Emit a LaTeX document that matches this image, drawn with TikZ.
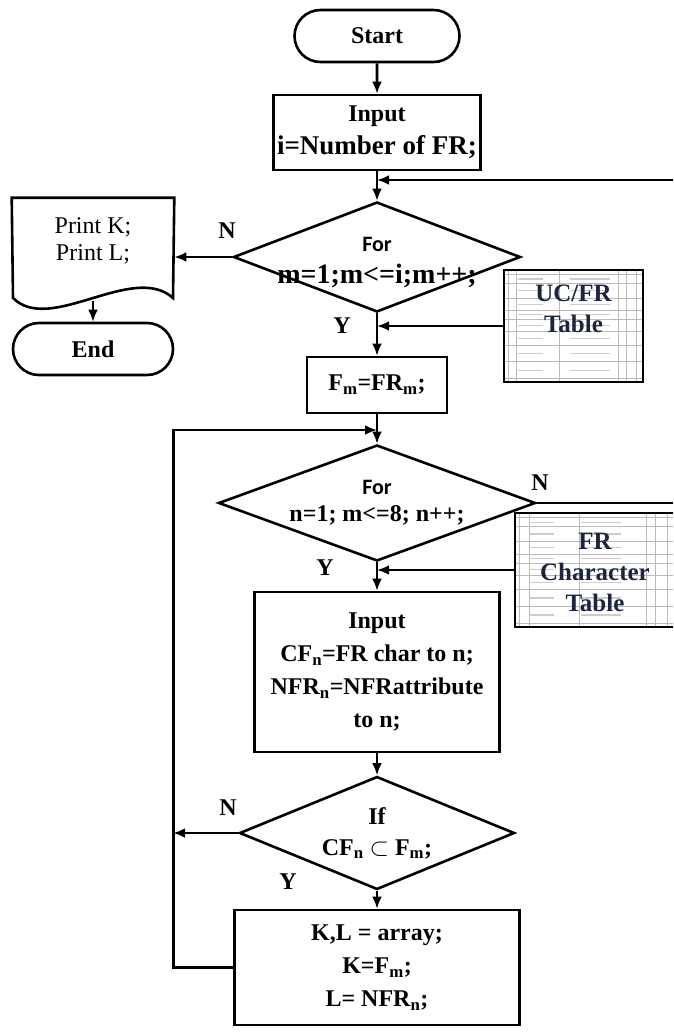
\documentclass[tikz,border=0pt]{standalone}
\usepackage{fontspec}
\setmainfont{Liberation Serif}
\newfontfamily\forfont{Carlito}
\usetikzlibrary{shapes.geometric,shapes.misc,arrows.meta,calc}

\definecolor{tabnavy}{HTML}{1C2440}
\newcommand{\Sub}[1]{\textsubscript{#1}}
\newcommand{\forword}{{\forfont\fontsize{22}{22}\selectfont For}}
\newcommand{\sized}[2]{{\fontsize{#1}{#1}\selectfont #2}}

\tikzset{
  box/.style={draw, rectangle, fill=white, align=center, inner sep=0pt,
    font=\fontsize{24}{33}\selectfont\bfseries},
  term/.style={box, rounded rectangle},
  dec/.style={box, diamond, aspect=2.6, inner sep=-14pt, font=\fontsize{24}{27}\selectfont\bfseries},
  lab/.style={font=\fontsize{24}{26}\selectfont\bfseries},
  tab/.style={draw, line width=2.8pt, fill=white, inner sep=0pt,
    path picture={
      \coordinate (sw) at (path picture bounding box.south west);
      \coordinate (ne) at (path picture bounding box.north east);
      \foreach \c in {0.03,0.09,0.40,0.82,0.88,0.95}
        \draw[gray!55, line width=0.7pt] ($(sw)!\c!(sw-|ne)$) -- ($(ne-|sw)!\c!(ne)$);
      \foreach \r in {0.04,0.12,0.25,0.36,0.44,0.55,0.67,0.82,0.97}
        \draw[gray!55, line width=0.7pt] ($(ne-|sw)!\r!(sw)$) -- ($(ne)!\r!(sw-|ne)$);
      \foreach \r in {0.08,0.185,0.305,0.40,0.495,0.61,0.745,0.895}{
        \draw[gray!40, line width=1.2pt] ($(ne-|sw)!\r!(sw)+(14,0)$) -- ++(25,0);
        \draw[gray!40, line width=1.2pt] ($(ne-|sw)!\r!(sw)+(66,0)$) -- ++(40,0);
      }
    }},
  tabtext/.style={align=center, text=tabnavy, font=\fontsize{25}{31}\selectfont\bfseries}
}

\begin{document}
\begin{tikzpicture}[x=1pt, y=-1pt, line width=2.6pt, >={Latex[length=12pt,width=10pt]}]
\useasboundingbox (0,0) rectangle (673,1034);
\clip (0,0) rectangle (673,1034);

\node[term, minimum width=165pt, minimum height=52pt] (start) at (377,36) {Start};
\node[box, minimum width=207pt, minimum height=75pt] (inp) at (377,132.5) {Input\\\sized{27}{i=Number of FR;}};
\node[dec, minimum width=287pt, minimum height=110pt] (forM) at (377,257) {\rule{0pt}{26pt}\forword\\[5pt]\sized{28}{m=1;m<=i;m++;}};
\node[box, minimum width=140pt, minimum height=56pt] (fm) at (377,385) {F\Sub{m}=FR\Sub{m};};
\node[dec, minimum width=317pt, minimum height=116pt] (forN) at (377,503) {\forword\\n=1; m<=8; n++;};
\node[box, minimum width=245pt, minimum height=160pt] (inpN) at (377,672) {Input\\CF\Sub{n}=FR char to n;\\NFR\Sub{n}=NFRattribute\\to n;};
\node[dec, minimum width=275pt, minimum height=113pt, font=\fontsize{24}{31}\selectfont\bfseries] (ifC) at (377,833) {If\\CF\Sub{n} $\subset$ F\Sub{m};};
\node[box, minimum width=285pt, minimum height=115pt] (kl) at (377,967.5) {K,L = array;\\K=F\Sub{m};\\L= NFR\Sub{n};};

\node[align=center, minimum width=160pt, minimum height=84pt, font=\fontsize{24}{27}\selectfont] (prt) at (93,241) {Print K;\\Print L;};
\coordinate (wl) at (13,298);
\coordinate (wr) at (173,298);
\draw (prt.north west) -- (prt.north east) -- (wr) .. controls (133,262) and (50,335) .. (wl) -- cycle;
\coordinate (pb) at (93,301);
\node[term, minimum width=160pt, minimum height=52pt] (end) at (93,349) {End};

\coordinate (j1) at (377,180);
\coordinate (j2) at (377,430);

\path[->] (start) edge (inp)
  (inp) edge (forM)
  (forM) edge (fm)
  (fm) edge (forN)
  (forN) edge (inpN)
  (inpN) edge (ifC)
  (ifC) edge (kl);

\draw[->] (forM.west) -- (forM.west -| prt.east);
\draw[->] (pb) -- (end);
\draw[->] (forN.east) -- ++(170,0) |- (j1);
\draw[->] (kl.west) -- ++(-60,0) coordinate (back) |- (j2);
\draw[->] (ifC.west) -- (ifC.west -| back);

% tables
\node[tab, minimum width=139pt, minimum height=112pt] (uc) at (573.5,326) {};
\node[tabtext] (ucT) at (573.5,309) {UC/FR\\Table};
\node[tab, minimum width=160pt, minimum height=114pt] (frc) at (595,570) {};
\node[tabtext] (frcT) at (595,572) {FR\\Character\\Table};
\draw[->] (uc.west) -- (uc.west -| fm.north);
\draw[->] (frc.west) -- (frc.west -| fm.north);

\node[lab] (nM) at (227,231) {N};
\node[lab] (yM) at (342,326) {Y};
\node[lab] (nN) at (540,483) {N};
\node[lab] (yN) at (325,568) {Y};
\node[lab] (nC) at (228,808) {N};
\node[lab] (yC) at (288,882) {Y};
\end{tikzpicture}
\end{document}
